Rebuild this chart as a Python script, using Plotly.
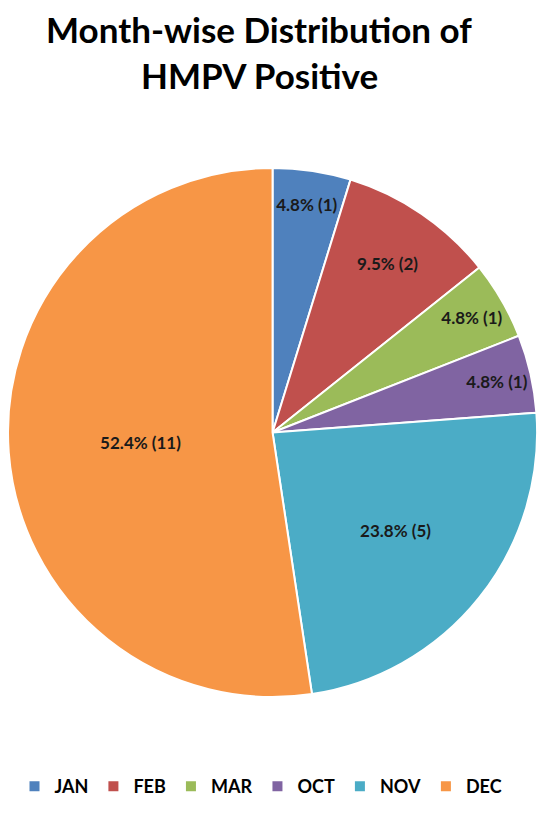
import plotly.graph_objects as go

months = ["JAN", "FEB", "MAR", "OCT", "NOV", "DEC"]
counts = [1, 2, 1, 1, 5, 11]
colors = ["#4F81BD", "#C0504D", "#9BBB59", "#8064A2", "#4BACC6", "#F79646"]
title_lines = ["Month-wise Distribution of", "HMPV Positive"]

fig = go.Figure(go.Pie(
    labels=months,
    values=counts,
    sort=False,
    direction="clockwise",
    rotation=0,
    marker=dict(colors=colors, line=dict(color="white", width=2)),
    texttemplate="%{percent:.1%} (%{value})",
    textposition="inside",
    insidetextorientation="horizontal",
    textfont=dict(family="Lato", size=17, color="#1a1a1a", weight="bold"),
    domain=dict(x=[0, 0.962], y=[0.1522, 0.8062]),
    hoverinfo="label+value+percent",
))

# title as two annotations so both lines stay on the page
for i, line in enumerate(title_lines):
    fig.add_annotation(
        text="<b>%s</b>" % line, xref="paper", yref="paper",
        x=0.457, y=1 - (21 + 46 * i) / 815, xanchor="center", yanchor="middle",
        showarrow=False, font=dict(family="Lato", size=35, color="black"),
        borderpad=0,
    )

fig.update_layout(
    width=550, height=815,
    margin=dict(l=0, r=0, t=0, b=0),
    paper_bgcolor="white",
    legend=dict(
        orientation="h", x=0.46, xanchor="center", y=0.022, yanchor="bottom",
        font=dict(family="Lato", size=18, color="black", weight="bold"),
        itemwidth=30,
    ),
)

fig.write_html("out.html")
